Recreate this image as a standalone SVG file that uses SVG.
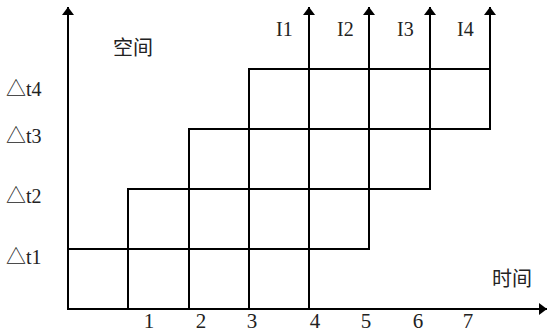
<svg xmlns="http://www.w3.org/2000/svg" width="547" height="332" viewBox="0 0 547 332">
  <style>
    .ln { stroke: #000; stroke-width: 2; fill: none; }
    .lbl { font-family: "Liberation Serif", "Noto Sans CJK SC", serif; font-size: 20px; fill: #222; }
    .cjk { font-family: "Noto Sans CJK SC", sans-serif; font-size: 20px; fill: #222; }
    .num { font-family: "Liberation Serif", serif; font-size: 21px; fill: #222; text-anchor: middle; }
  </style>
  <defs>
    <marker id="arr" markerUnits="userSpaceOnUse" markerWidth="8" markerHeight="12" refX="8" refY="6" orient="auto">
      <path d="M0,0 L8,6 L0,12 z" fill="#000"/>
    </marker>
  </defs>
  <rect width="547" height="332" fill="#fff"/>
  <g id="connectors">
    <line id="axis-y" class="ln" x1="68" y1="310" x2="68" y2="7" marker-end="url(#arr)"/>
    <line id="axis-x" class="ln" x1="67" y1="309" x2="547" y2="309" marker-end="url(#arr)"/>
    <line id="I1-line" class="ln" x1="309" y1="309" x2="309" y2="7" marker-end="url(#arr)"/>
    <line id="I2-line" class="ln" x1="369" y1="249" x2="369" y2="7" marker-end="url(#arr)"/>
    <line id="I3-line" class="ln" x1="430" y1="189" x2="430" y2="7" marker-end="url(#arr)"/>
    <line id="I4-line" class="ln" x1="490" y1="129" x2="490" y2="7" marker-end="url(#arr)"/>
  </g>
  <g id="grid" class="ln">
    <line x1="128" y1="309" x2="128" y2="188"/>
    <line x1="189" y1="309" x2="189" y2="128"/>
    <line x1="249" y1="309" x2="249" y2="68"/>
    <line x1="67" y1="249" x2="370" y2="249"/>
    <line x1="127" y1="189" x2="431" y2="189"/>
    <line x1="188" y1="129" x2="491" y2="129"/>
    <line x1="248" y1="69" x2="491" y2="69"/>
  </g>
  <g id="labels-space">
    <text class="cjk" x="113" y="55">空间</text>
    <text class="lbl" x="6" y="96">△t4</text>
    <text class="lbl" x="6" y="143">△t3</text>
    <text class="lbl" x="6" y="203">△t2</text>
    <text class="lbl" x="6" y="264">△t1</text>
  </g>
  <g id="labels-I">
    <text class="lbl" x="276" y="36">I1</text>
    <text class="lbl" x="337" y="36">I2</text>
    <text class="lbl" x="397" y="36">I3</text>
    <text class="lbl" x="457" y="36">I4</text>
  </g>
  <g id="labels-time">
    <text class="cjk" x="492" y="286">时间</text>
    <text class="num" x="149" y="328">1</text>
    <text class="num" x="201" y="328">2</text>
    <text class="num" x="252" y="328">3</text>
    <text class="num" x="315" y="328">4</text>
    <text class="num" x="366" y="328">5</text>
    <text class="num" x="418" y="328">6</text>
    <text class="num" x="468" y="328">7</text>
  </g>
</svg>
